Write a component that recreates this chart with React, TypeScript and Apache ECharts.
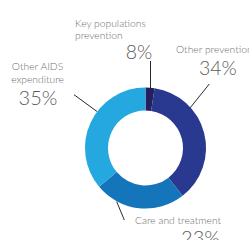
import React, { useEffect, useRef } from "react";
import * as echarts from "echarts";

const categories = [
  "Key populations\nprevention",
  "Other prevention",
  "Care and treatment",
  "Other AIDS\nexpenditure",
];
const percentLabels = ["8%", "34%", "23%", "35%"];
// arc shares as drawn in the picture
const arcShares = [2.4, 37.1, 24.4, 36.1];
const colors = ["#241f5f", "#29398f", "#1475bb", "#25a8e0"];

const FONT = "Lato";
const SMALL = "#6e6e6e";
const BIG = "#5a5a5a";

export default function App() {
  const ref = useRef<HTMLDivElement>(null);
  useEffect(() => {
    if (!ref.current) return;
    const chart = echarts.init(ref.current, undefined, { renderer: "svg" });
    const nameText = (i: number, x: number, y: number, align: string) => ({
      type: "text",
      x,
      y,
      silent: true,
      style: {
        text: categories[i],
        fill: SMALL,
        fontFamily: FONT,
        fontSize: 10.3,
        fontWeight: 300,
        lineHeight: 12.5,
        align,
        verticalAlign: "middle",
      },
    });
    const pctText = (i: number, x: number, y: number, size: number) => ({
      type: "text",
      x,
      y,
      silent: true,
      style: {
        text: percentLabels[i],
        fill: BIG,
        fontFamily: FONT,
        fontSize: size,
        fontWeight: 300,
        align: "center",
        verticalAlign: "middle",
      },
    });
    const lineEl = (x1: number, y1: number, x2: number, y2: number) => ({
      type: "line",
      silent: true,
      shape: { x1, y1, x2, y2 },
      style: { stroke: "#2b2b2b", lineWidth: 1 },
    });
    chart.setOption({
      animation: false,
      series: [
        {
          type: "pie",
          center: [145.5, 148],
          radius: [37.5, 60.5],
          startAngle: 90,
          clockwise: true,
          silent: true,
          label: { show: false },
          labelLine: { show: false },
          data: categories.map((c, i) => ({
            name: c,
            value: arcShares[i],
            itemStyle: { color: colors[i] },
          })),
        },
      ],
      graphic: [
        lineEl(150.5, 61, 150.5, 89),
        lineEl(209.3, 84, 190, 108),
        lineEl(74, 94.7, 97.3, 111.7),
        lineEl(116.7, 201.7, 124.3, 220),
        nameText(0, 75, 29.2, "left"),
        pctText(0, 139, 51, 19.5),
        nameText(1, 176, 49.4, "left"),
        pctText(1, 217.8, 67.3, 19.5),
        nameText(3, 37.5, 72.7, "center"),
        pctText(3, 38, 97.3, 20),
        nameText(2, 135, 220, "left"),
        pctText(2, 200.5, 236.5, 20),
      ],
    });
    return () => chart.dispose();
  }, []);
  return (
    <div
      ref={ref}
      style={{ position: "absolute", left: 0, top: 0, width: 249, height: 240 }}
    />
  );
}
